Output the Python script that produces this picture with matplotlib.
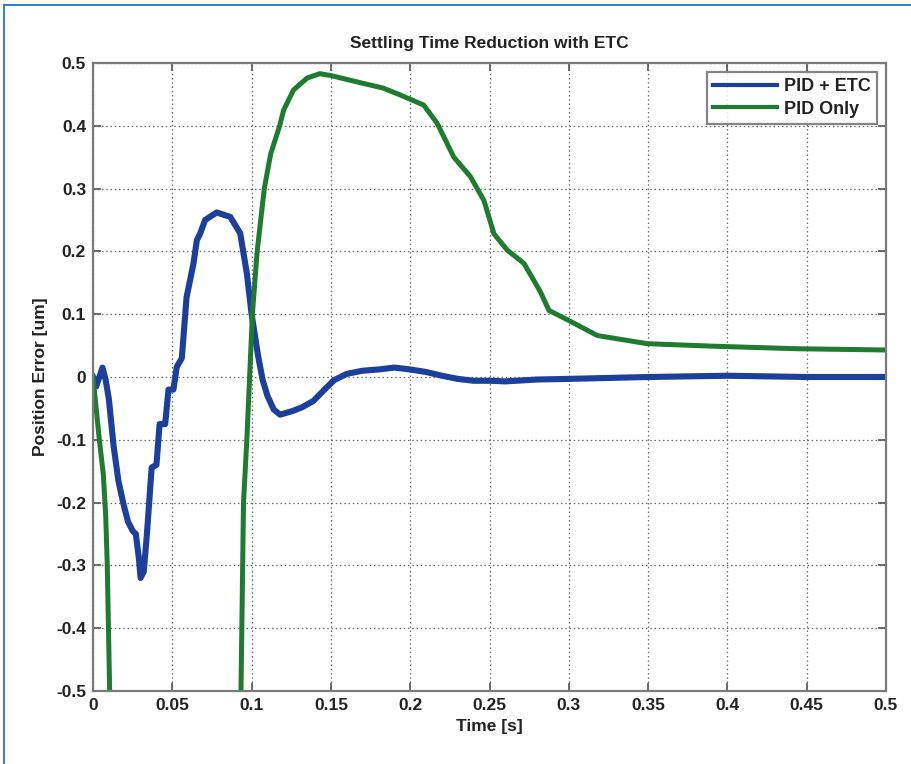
import matplotlib
matplotlib.use("Agg")
import matplotlib.pyplot as plt
from matplotlib.patches import Rectangle

plt.rcParams['font.family'] = ['Liberation Sans Narrow', 'Liberation Sans', 'DejaVu Sans']

# ---- data ----
t_etc = [0.000, 0.002, 0.004, 0.006, 0.008, 0.010, 0.013, 0.016, 0.019, 0.022,
         0.025, 0.027, 0.029, 0.030, 0.032, 0.034, 0.037, 0.040, 0.042, 0.0455,
         0.0476, 0.0507, 0.0528, 0.056, 0.059, 0.0633, 0.0655, 0.0675, 0.0707, 0.078,
         0.0865, 0.0928, 0.097, 0.100, 0.104, 0.107, 0.110, 0.114, 0.118, 0.122,
         0.126, 0.132, 0.139, 0.146, 0.152, 0.160, 0.170, 0.180, 0.190, 0.200,
         0.210, 0.220, 0.230, 0.240, 0.250, 0.260, 0.280, 0.300, 0.350, 0.400,
         0.450, 0.500]
err_etc = [0.000, -0.015, 0.000, 0.015, -0.005, -0.035, -0.110, -0.165, -0.200, -0.230,
           -0.245, -0.250, -0.290, -0.320, -0.310, -0.250, -0.144, -0.140, -0.075, -0.075,
           -0.020, -0.020, 0.016, 0.030, 0.127, 0.180, 0.218, 0.228, 0.250, 0.262,
           0.255, 0.229, 0.165, 0.100, 0.035, -0.005, -0.030, -0.052, -0.060, -0.057,
           -0.054, -0.048, -0.038, -0.020, -0.005, 0.005, 0.010, 0.012, 0.015, 0.012,
           0.008, 0.002, -0.003, -0.006, -0.006, -0.007, -0.004, -0.003, 0.000, 0.002,
           0.000, 0.000]

t_pid = [0.000, 0.002, 0.004, 0.0065, 0.008, 0.009, 0.0105, 0.013, 0.050, 0.090,
         0.0933, 0.0949, 0.097, 0.0998, 0.1005, 0.1035, 0.108, 0.112, 0.1177, 0.1202,
         0.1264, 0.135, 0.143, 0.150, 0.1663, 0.183, 0.1938, 0.2085, 0.217, 0.2275,
         0.238, 0.2465, 0.2528, 0.2612, 0.2717, 0.282, 0.2875, 0.300, 0.318, 0.3496,
         0.3917, 0.444, 0.500]
err_pid = [0.000, -0.050, -0.100, -0.155, -0.220, -0.300, -0.500, -0.800, -1.500, -0.800,
           -0.500, -0.200, -0.100, 0.060, 0.100, 0.200, 0.300, 0.355, 0.400, 0.425,
           0.457, 0.476, 0.483, 0.480, 0.470, 0.460, 0.449, 0.433, 0.404, 0.350,
           0.319, 0.281, 0.228, 0.202, 0.181, 0.136, 0.106, 0.090, 0.066, 0.053,
           0.049, 0.045, 0.043]

xticks = [0, 0.05, 0.1, 0.15, 0.2, 0.25, 0.3, 0.35, 0.4, 0.45, 0.5]
xticklabels = ['0', '0.05', '0.1', '0.15', '0.2', '0.25', '0.3', '0.35', '0.4', '0.45', '0.5']
yticks = [-0.5, -0.4, -0.3, -0.2, -0.1, 0, 0.1, 0.2, 0.3, 0.4, 0.5]
yticklabels = ['-0.5', '-0.4', '-0.3', '-0.2', '-0.1', '0', '0.1', '0.2', '0.3', '0.4', '0.5']

fig = plt.figure(figsize=(9.11, 7.64), dpi=100)
fig.patch.set_facecolor('white')

# outer light-blue frame
fig.patches.append(Rectangle((4/911, -0.05), 1.2, 1 - 5/764 + 0.05, transform=fig.transFigure,
                             fill=False, edgecolor='#2b7fd3', linewidth=1.4))

ax = fig.add_axes([93/911, 1 - 691/764, (886 - 93)/911, (691 - 63)/764])

ax.plot(t_etc, err_etc, color='#1c3f9e', linewidth=4.4, label='PID + ETC', solid_joinstyle='round')
ax.plot(t_pid, err_pid, color='#1f7b30', linewidth=3.6, label='PID Only', solid_joinstyle='round')

ax.set_xlim(0, 0.5)
ax.set_ylim(-0.5, 0.5)
ax.set_xticks(xticks)
ax.set_xticklabels(xticklabels)
ax.set_yticks(yticks)
ax.set_yticklabels(yticklabels)

ax.grid(True, color='#6a6a6a', linestyle=(0, (1.2, 2.2)), linewidth=0.9)
ax.set_axisbelow(True)

for s in ax.spines.values():
    s.set_color('#7a7a7a')
    s.set_linewidth(1.6)
ax.tick_params(direction='in', length=6, width=1.2, color='#555555',
               top=True, right=True, labelsize=12.5, pad=5)
for lab in ax.get_xticklabels() + ax.get_yticklabels():
    lab.set_fontweight('bold')
    lab.set_color('#222222')

ax.set_title('Settling Time Reduction with ETC', fontsize=12.5, fontweight='bold', color='#222222', pad=11)
ax.set_xlabel('Time [s]', fontsize=12.5, fontweight='bold', color='#222222', labelpad=4)
ax.set_ylabel('Position Error [um]', fontsize=12.5, fontweight='bold', color='#222222', labelpad=6)

leg = ax.legend(loc='upper right', fontsize=13, frameon=True, fancybox=False,
                borderaxespad=0.5, handlelength=3.5, handletextpad=0.4, borderpad=0.35,
                labelspacing=0.3)
leg.get_frame().set_edgecolor('#666666')
leg.get_frame().set_linewidth(1.6)
for line in leg.get_lines():
    line.set_linewidth(3.0)
for txt in leg.get_texts():
    txt.set_fontweight('bold')
    txt.set_color('#222222')

fig.savefig('out.png', dpi=100)
